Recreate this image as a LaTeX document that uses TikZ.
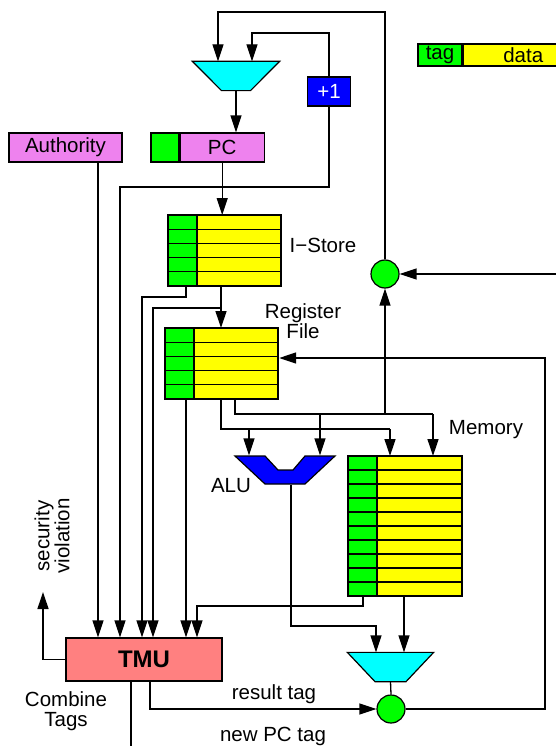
\documentclass[tikz,border=0pt]{standalone}
\usepackage{fontspec}
\setmainfont{Liberation Sans}
\usetikzlibrary{arrows.meta,calc}
\definecolor{tagg}{RGB}{0,255,0}
\definecolor{datay}{RGB}{255,255,0}
\definecolor{muxc}{RGB}{0,255,255}
\definecolor{aluc}{RGB}{0,0,255}
\definecolor{regc}{RGB}{238,130,238}
\definecolor{tmuc}{RGB}{255,128,128}
% #1 name, #2 x left, #3 y top, #4 rows, #5 total width, #6 row height
\newcommand\tagstore[6]{%
  \foreach \i in {1,...,#4}{%
    \draw[shapeline,fill=tagg] (#2,{#3+(\i-1)*#6}) rectangle ++(29,#6);
    \draw[shapeline,fill=datay] (#2+29,{#3+(\i-1)*#6}) rectangle ++(#5-29,#6);
  }%
  \node[inner sep=0,minimum width=#5,minimum height=#4*#6,anchor=north west,draw,line width=1.2pt] (#1) at (#2,#3) {};
}
\begin{document}
\begin{tikzpicture}[x=1pt,y=-1pt,line width=1.3pt,
  >={Triangle[length=17pt,width=11pt]},
  font=\fontsize{20.5}{20}\selectfont,
  shapeline/.style={line width=1.2pt},
  box/.style={draw,line width=1.2pt,inner sep=0,minimum height=29},
  lbl/.style={inner sep=0,align=center},
  tagdot/.style={circle,draw,line width=1.2pt,fill=tagg,minimum size=28,inner sep=0}]
\useasboundingbox (0,0) rectangle (556,746);

% legend
\node[box,fill=tagg,minimum width=44,minimum height=22] (lgtag) at (440,55) {tag};
\node[box,fill=datay,minimum width=120,minimum height=22,anchor=west] (lgdata) at (lgtag.east) {data\hspace{38pt}};

% PC path
\node[box,fill=regc,minimum width=113] (auth) at (65.5,147.5) {Authority};
\node[box,fill=tagg,minimum width=28] (pctag) at (165,147.5) {};
\node[box,fill=regc,minimum width=84,anchor=west] (pc) at (pctag.east) {PC};
\node[box,fill=aluc,text=white,minimum width=43] (inc) at (329,91.5) {+1};

\node[inner sep=0,minimum width=86,minimum height=28] (mux1) at (236,76) {};
\draw[shapeline,fill=muxc] (mux1.north west) -- (mux1.north east) -- ($(mux1.south)+(14.5,0)$) -- ($(mux1.south)+(-14.5,0)$) -- cycle;

% stores
\tagstore{istore}{168}{215}{5}{113}{14.2}
\tagstore{rf}{165}{328}{5}{113}{14.2}
\tagstore{mem}{348}{456}{10}{114}{14}

\node[lbl] (istorel) at (323,245) {I−Store};
\node[lbl] (rfl) at (303,321) {Register\\File};
\node[lbl] (meml) at (486,430) {Memory};

% ALU
\node[inner sep=0,minimum width=100,minimum height=28] (alu) at (285,470) {};
\draw[shapeline,fill=aluc] (235,456) -- (265,456) -- (278,470) -- (293,470) -- (305,456) -- (335,456) -- (305,484) -- (265,484) -- cycle;
\node[lbl] (alul) at (231,486) {ALU};

% bottom mux
\node[inner sep=0,minimum width=85,minimum height=28] (mux2) at (390.5,667) {};
\draw[shapeline,fill=muxc] (mux2.north west) -- (mux2.north east) -- ($(mux2.south)+(15.5,0)$) -- ($(mux2.south)+(-15.5,0)$) -- cycle;

\node[tagdot] (c1) at (385,274) {};
\node[tagdot] (c2) at (391,709) {};

% TMU
\node[box,fill=tmuc,minimum width=156,minimum height=43,font=\bfseries\fontsize{24}{24}\selectfont] (tmu) at (144,659.5) {TMU};
\node[lbl] (combl) at (66,711) {Combine\\Tags};
\node[lbl,rotate=90] (secl) at (52,536) {security\\violation};
\node[lbl] (rtagl) at (274,694) {result tag};
\node[lbl] (npcl) at (273,736) {new PC tag};

% coordinates
\coordinate (t1) at (218,12);
\coordinate (t2) at (252,33);
\coordinate (t3) at (120,187);
\coordinate (ta) at (98,300);
\coordinate (b1) at (186,297);
\coordinate (b2) at (142,297);
\coordinate (b3) at (221,308);
\coordinate (b4) at (153,308);
\coordinate (b5) at (186,500);
\coordinate (d1) at (221,429);
\coordinate (d2) at (390,429);
\coordinate (d3) at (249,429);
\coordinate (e1) at (235,414);
\coordinate (e2) at (433,414);
\coordinate (e3) at (320,414);
\coordinate (e4) at (385,414);
\coordinate (f1) at (291,626);
\coordinate (f2) at (376,626);
\coordinate (g1) at (363,606);
\coordinate (g2) at (197,606);
\coordinate (g3) at (404,640);
\coordinate (h1) at (545,709);
\coordinate (h2) at (545,358);
\coordinate (k1) at (150,709);
\coordinate (k2) at (131,750);
\coordinate (s2) at (43,592);
\coordinate (r1) at (560,274);

% connectors
\draw[->] (c1.north) |- (t1) -- (t1 |- mux1.north);
\draw[->] (inc.north) |- (t2) -- (t2 |- mux1.north);
\draw[->] (mux1.south) -- (mux1.south |- pc.north);
\draw[->] (inc.south) |- (t3) -- (t3 |- tmu.north);
\draw[->] (pc.south) -- (pc.south |- istore.north);
\draw[->] (auth.south -| ta) -- (ta |- tmu.north);
\draw[->] (istore.south -| b1) -- (b1) -- (b2) -- (b2 |- tmu.north);
\draw[->] (istore.south -| b3) -- (b3 |- rf.north);
\draw[->] (b3) -- (b4) -- (b4 |- tmu.north);
\draw[->] (rf.south -| b5) -- (b5 |- tmu.north);
\draw (rf.south -| d1) -- (d1) -- (d2);
\draw[->] (d3) -- (d3 |- alu.north);
\draw[->] (d2) -- (d2 |- mem.north);
\draw (rf.south -| e1) -- (e1) -- (e2);
\draw[->] (e3) -- (e3 |- alu.north);
\draw[->] (e2) -- (e2 |- mem.north);
\draw[->] (e4) -- (c1.south);
\draw[->] (alu.south -| f1) -- (f1) -- (f2) -- (f2 |- mux2.north);
\draw[->] (mem.south -| g1) -- (g1) -- (g2) -- (g2 |- tmu.north);
\draw[->] (mem.south -| g3) -- (g3 |- mux2.north);
\draw (mux2.south) -- (c2.north);
\draw[->] (c2.east) -- (h1) -- (h2) -- (h2 -| rf.east);
\draw[->] (tmu.south -| k1) -- (k1) -- (c2.west);
\draw (tmu.south -| k2) -- (k2);
\draw[->] (tmu.west) -| (s2);
\draw[->] (r1) -- (c1.east);
\end{tikzpicture}
\end{document}
